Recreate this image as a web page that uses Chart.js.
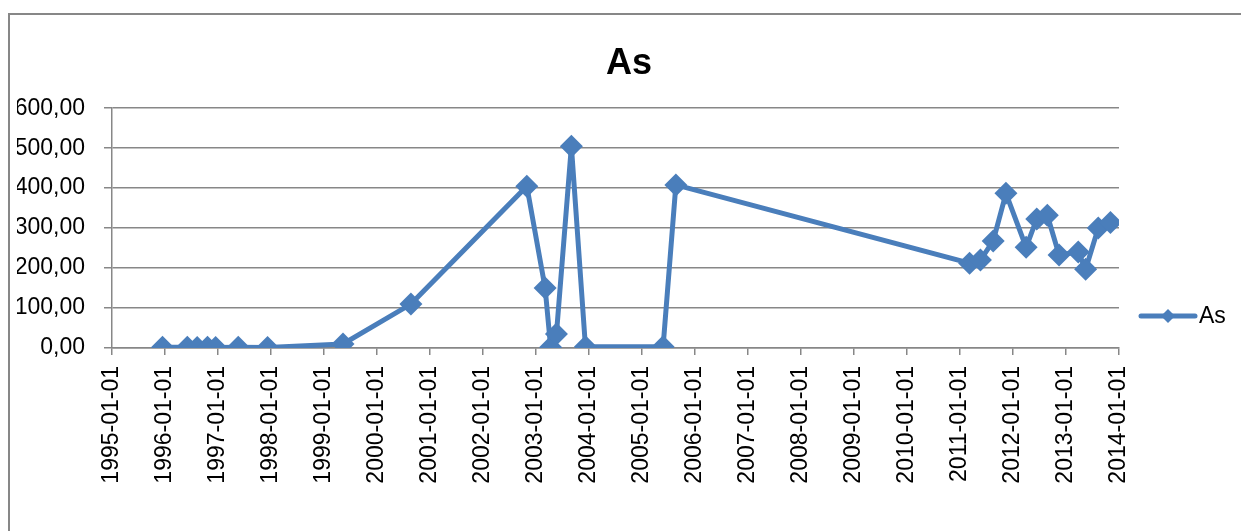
<!DOCTYPE html>
<html>
<head>
<meta charset="utf-8">
<title>As</title>
<script src="https://cdn.jsdelivr.net/npm/chart.js@4/dist/chart.umd.min.js"></script>
<style>
  html, body { margin: 0; padding: 0; background: #fff; overflow: hidden; }
  #wrap { position: relative; width: 1241px; height: 531px; overflow: hidden; }
  #frame {
    position: absolute; left: 8px; top: 13px; width: 1300px; height: 600px;
    border-left: 2px solid #878787; border-top: 2px solid #878787;
  }
  #c { position: absolute; left: 0; top: 0; }
</style>
</head>
<body>
<div id="wrap">
  <div id="frame"></div>
  <canvas id="c" width="1241" height="531"></canvas>
</div>
<script>
// Sampling dates and measured arsenic values
const sampleDates = [
  '1995-12-15', '1996-06-03', '1996-08-10', '1996-10-20', '1996-12-15',
  '1997-05-20', '1997-12-08', '1999-05-12', '2000-08-22', '2002-10-30',
  '2003-03-05', '2003-04-12', '2003-05-22', '2003-09-02', '2003-12-08',
  '2005-05-26', '2005-08-22', '2011-03-08', '2011-05-22', '2011-08-18',
  '2011-11-14', '2012-04-01', '2012-06-13', '2012-08-25', '2012-11-14',
  '2013-03-26', '2013-05-16', '2013-08-11', '2013-11-03'
];
const asValues = [
  2, 2, 1, 2, 1,
  2, 1, 10, 110, 405,
  150, 2, 35, 505, 3,
  3, 408, 212, 220, 268,
  387, 252, 323, 332, 233,
  240, 197, 300, 314
];

// Axis ticks: one per year on the date axis, steps of 100 on the value axis
const tickYears = [1995, 1996, 1997, 1998, 1999, 2000, 2001, 2002, 2003, 2004,
                   2005, 2006, 2007, 2008, 2009, 2010, 2011, 2012, 2013, 2014];
const valueTicks = [0, 100, 200, 300, 400, 500, 600];

const seriesLabel = 'As';
const seriesColor = '#4a7ebb';
const axisColor = '#878787';
const fontFamily = "'Liberation Sans', Arial, sans-serif";

const toMs = d => Date.parse(d + 'T00:00:00Z');
const yearMs = tickYears.map(y => Date.UTC(y, 0, 1));
const points = sampleDates.map((d, i) => ({ x: toMs(d), y: asValues[i] }));

// Legend entry: line with a diamond marker, then the series name
const sideLegend = {
  id: 'sideLegend',
  afterDraw(chart) {
    const ctx = chart.ctx;
    const ds = chart.data.datasets[0];
    const x0 = chart.chartArea.right + 22;
    const cy = 316;
    ctx.save();
    ctx.strokeStyle = ds.borderColor;
    ctx.fillStyle = ds.borderColor;
    ctx.lineWidth = 5;
    ctx.lineCap = 'round';
    ctx.beginPath();
    ctx.moveTo(x0, cy);
    ctx.lineTo(x0 + 54, cy);
    ctx.stroke();
    const mx = x0 + 27, r = 7;
    ctx.beginPath();
    ctx.moveTo(mx, cy - r);
    ctx.lineTo(mx + r, cy);
    ctx.lineTo(mx, cy + r);
    ctx.lineTo(mx - r, cy);
    ctx.closePath();
    ctx.fill();
    ctx.fillStyle = '#000';
    ctx.font = '23px ' + fontFamily;
    ctx.textBaseline = 'middle';
    ctx.textAlign = 'left';
    ctx.fillText(ds.label, x0 + 58, cy + 1);
    ctx.restore();
  }
};

new Chart(document.getElementById('c'), {
  type: 'line',
  data: {
    datasets: [{
      label: seriesLabel,
      data: points,
      borderColor: seriesColor,
      backgroundColor: seriesColor,
      borderWidth: 5,
      tension: 0,
      fill: false,
      pointStyle: 'rectRot',
      pointRadius: 11.5,
      pointHoverRadius: 11.5,
      pointBorderWidth: 0,
      pointBackgroundColor: seriesColor
    }]
  },
  options: {
    responsive: false,
    animation: false,
    events: [],
    layout: { padding: { left: 17, right: 0, top: 0, bottom: 0 } },
    plugins: {
      legend: { display: false },
      tooltip: { enabled: false },
      title: {
        display: true,
        text: seriesLabel,
        color: '#000',
        font: { family: fontFamily, size: 36, weight: 'bold', lineHeight: 1.2 },
        padding: { top: 42, bottom: 23 }
      }
    },
    scales: {
      x: {
        type: 'linear',
        min: yearMs[0],
        max: yearMs[yearMs.length - 1],
        afterBuildTicks: s => { s.ticks = yearMs.map(v => ({ value: v })); },
        afterFit: s => { s.height = 183; },
        ticks: {
          autoSkip: false,
          minRotation: 90,
          maxRotation: 90,
          padding: 11,
          color: '#000',
          font: { family: fontFamily, size: 23 },
          callback: v => new Date(v).toISOString().slice(0, 10)
        },
        grid: {
          display: true,
          drawOnChartArea: false,
          drawTicks: true,
          tickLength: 7,
          color: axisColor,
          lineWidth: 1.5
        },
        border: { display: true, color: axisColor, width: 1.5 }
      },
      y: {
        min: valueTicks[0],
        max: valueTicks[valueTicks.length - 1],
        afterBuildTicks: s => { s.ticks = valueTicks.map(v => ({ value: v })); },
        afterFit: s => { s.width = 95; },
        ticks: {
          padding: 19,
          color: '#000',
          font: { family: fontFamily, size: 23 },
          callback: v => v.toFixed(2).replace('.', ',')
        },
        grid: {
          color: axisColor,
          lineWidth: 1.5,
          drawTicks: true,
          tickLength: 8
        },
        border: { display: true, color: axisColor, width: 1.5 }
      },
      // empty right-hand strip that leaves room for the legend entry
      legendSpace: {
        type: 'linear',
        position: 'right',
        display: true,
        afterFit: s => { s.width = 122; },
        ticks: { display: false },
        grid: { display: false, drawTicks: false },
        border: { display: false }
      }
    }
  },
  plugins: [sideLegend]
});
</script>
</body>
</html>
